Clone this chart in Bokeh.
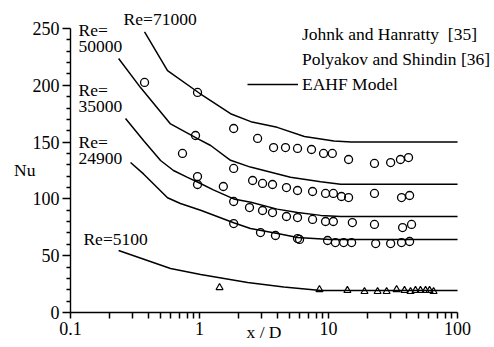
from bokeh.plotting import figure
from bokeh.models import (FixedTicker, CustomJSTickFormatter,
                          Legend, LegendItem, ColumnDataSource)
from bokeh.core.properties import value
from bokeh.embed import file_html
from bokeh.resources import INLINE

SERIF = "Liberation Serif"

# EAHF model curves, one per Reynolds number
re71000_x = [0.375, 0.565, 1.0, 1.74, 2.5, 4.0, 6.5, 11.0, 15.0, 100]
re71000_nu = [247, 213, 193, 175, 168, 163, 155, 151, 150, 150]

re50000_x = [0.236, 0.349, 0.596, 0.965, 1.22, 1.74, 2.48, 5.07, 8.7, 12.4, 100]
re50000_nu = [223.6, 198, 166, 153, 147, 134, 128, 119, 115, 113, 113]

re35000_x = [0.267, 0.368, 0.499, 0.628, 0.807, 1.0, 1.28, 1.84, 2.5, 4.0, 5.75, 8.7, 12.4, 100]
re35000_nu = [170.8, 151.4, 133.8, 125, 119, 114, 108, 100, 97, 91, 88, 85.5, 84.5, 84.5]

re24900_x = [0.292, 0.368, 0.565, 0.711, 1.02, 1.84, 2.48, 4.03, 5.75, 10.3, 100]
re24900_nu = [132, 122, 101, 96, 90, 79, 74, 69.5, 66, 64.3, 64.3]

re5100_x = [0.236, 0.596, 1.02, 2.36, 4.5, 8.7, 100]
re5100_nu = [54.6, 38.7, 33.5, 26.4, 22.5, 19.4, 19.4]

# Johnk and Hanratty [35] measurements
jh71000_x = [0.965, 1.84, 2.82, 3.75, 4.64, 5.75, 7.38, 9.15, 10.7, 14.3, 22.7, 30.3, 36.1, 41.7]
jh71000_nu = [193.7, 162, 153.2, 145.2, 145.2, 144.4, 143.5, 140, 140, 134.7, 131.2, 132, 134.7, 136.4]

jh50000_x = [0.375, 0.738, 0.931, 1.84, 2.58, 3.08, 3.68, 4.72, 5.75, 7.52, 9.48, 10.9, 12.6, 14.3, 22.7, 36.8, 42.5]
jh50000_nu = [202.5, 140, 155.8, 126.8, 116.2, 113.6, 112.7, 110, 107.4, 106.5, 104.8, 104.8, 102.1, 101.2, 104.8, 101.2, 103]

jh35000_x = [0.965, 0.965, 1.53, 1.84, 2.44, 3.08, 3.68, 4.72, 5.75, 7.52, 9.48, 10.9, 15.3, 22.7, 37.5, 44.0]
jh35000_nu = [119.7, 112.7, 110.9, 97.7, 92.4, 89.8, 88, 84.5, 83.6, 81.9, 80.1, 80.1, 79.2, 77.5, 74.8, 77.5]

jh24900_x = [1.84, 2.97, 3.88, 5.75, 5.96, 9.83, 11.3, 13.1, 15.1, 23.2, 30.3, 36.8, 42.5]
jh24900_nu = [78.3, 70.4, 67.8, 65.1, 64.3, 63.4, 61.6, 61.6, 61.6, 60.7, 60.7, 61.6, 62.5]

# Polyakov and Shindin [36] measurements (Re = 5100)
ps_x = [1.43, 8.5, 14.0, 19.0, 24.0, 28.2, 33.7, 38.8, 43.2, 47.2, 51.6, 56.5, 60.7, 65.2]
ps_nu = [22, 20.2, 19.4, 18.5, 18.5, 18.5, 20.2, 19.4, 18.5, 19.4, 19.4, 19.4, 19.4, 18.5]

# curve labels
re_label_x = [0.258, 0.1153, 0.1153, 0.1153, 0.1153, 0.1153, 0.1153, 0.126]
re_label_nu = [258.4, 249, 234, 196, 181, 150.5, 135.6, 65]
re_label_text = ["Re=71000", "Re=", "50000", "Re=", "35000", "Re=", "24900", "Re=5100"]

# x ticks: every 1-9 step of each decade; only the decades carry a label
x_ticks = [0.1, 0.2, 0.3, 0.4, 0.5, 0.6, 0.7, 0.8, 0.9,
           1, 2, 3, 4, 5, 6, 7, 8, 9,
           10, 20, 30, 40, 50, 60, 70, 80, 90, 100]
y_ticks = [0, 50, 100, 150, 200, 250]
y_minor = [v for v in range(10, 250, 10) if v % 50]

# the frame runs past 100 and 250 so the key and top label have room;
# the axis lines themselves stop at the data limits via `bounds`
p = figure(width=494, height=347, x_axis_type="log", x_range=(0.1, 186.6), y_range=(0, 272.9),
           output_backend="svg", toolbar_location=None,
           min_border_left=70, min_border_right=2, min_border_top=2, min_border_bottom=35)
p.outline_line_color = None
p.xgrid.visible = False
p.ygrid.visible = False
p.background_fill_color = "white"
p.border_fill_color = "white"

curves = [(re71000_x, re71000_nu), (re50000_x, re50000_nu), (re35000_x, re35000_nu),
          (re24900_x, re24900_nu), (re5100_x, re5100_nu)]
line_renderers = [p.line(cx, cy, line_color="black", line_width=1.5) for cx, cy in curves]

for cx, cy in [(jh71000_x, jh71000_nu), (jh50000_x, jh50000_nu),
               (jh35000_x, jh35000_nu), (jh24900_x, jh24900_nu)]:
    p.scatter(cx, cy, marker="circle", size=8, fill_color=None,
              line_color="black", line_width=1.3)

p.scatter(ps_x, ps_nu, marker="triangle", size=7, fill_color=None,
          line_color="black", line_width=1.2)

p.text(re_label_x, re_label_nu, text=re_label_text, text_font=value(SERIF),
       text_font_size="17.5px", text_color="black", text_align="left",
       text_baseline="middle")

# small key markers for the legend
empty = ColumnDataSource(data=dict(x=[], y=[]))
key_circle = p.scatter("x", "y", source=empty, marker="circle", size=6, fill_color=None,
                       line_color="black", line_width=1.3)
key_tri = p.scatter("x", "y", source=empty, marker="triangle", size=6, fill_color=None,
                    line_color="black", line_width=1.2)

legend = Legend(items=[
    LegendItem(label="Johnk and Hanratty  [35]", renderers=[key_circle]),
    LegendItem(label="Polyakov and Shindin [36]", renderers=[key_tri]),
    LegendItem(label="EAHF Model", renderers=[line_renderers[0]]),
], location=(177, 217))
legend.padding = 0
legend.margin = 0
legend.spacing = 3
legend.glyph_width = 51
legend.glyph_height = 22
legend.label_height = 22
legend.label_standoff = 4
legend.border_line_color = None
legend.background_fill_alpha = 0
legend.label_text_font = SERIF
legend.label_text_font_size = "17.5px"
legend.label_text_color = "black"
p.add_layout(legend, "center")

# axes
xa = p.xaxis[0]
xa.ticker = FixedTicker(ticks=x_ticks)
xa.formatter = CustomJSTickFormatter(code="""
    const e = Math.log10(tick);
    return Math.abs(e - Math.round(e)) < 1e-9 ? String(tick) : "";
""")
xa.bounds = (0.1, 100)
ya = p.yaxis[0]
ya.ticker = FixedTicker(ticks=y_ticks, minor_ticks=y_minor)
ya.bounds = (0, 250)
for ax in (xa, ya):
    ax.axis_line_color = "black"
    ax.axis_line_width = 1.4
    ax.major_tick_line_color = "black"
    ax.minor_tick_line_color = "black"
    ax.major_tick_line_width = 1.5
    ax.minor_tick_line_width = 1.5
    ax.major_tick_in = 0
    ax.minor_tick_in = 0
    ax.minor_tick_out = 4
    ax.major_label_text_font = SERIF
    ax.major_label_text_font_size = "18px"
    ax.major_label_text_color = "black"
    ax.axis_label_text_font = SERIF
    ax.axis_label_text_font_size = "17.5px"
    ax.axis_label_text_font_style = "normal"
    ax.axis_label_text_color = "black"
xa.major_tick_out = 6
xa.major_label_standoff = 3
# two trailing em spaces pull the centred title back over the 0.1-100 span
xa.axis_label = "x / D\u2003\u2003"
xa.axis_label_standoff = -16
ya.major_tick_out = 8
ya.major_label_standoff = 3
ya.axis_label = "\nNu"
ya.axis_label_orientation = "horizontal"
ya.axis_label_standoff = -6

open("out.html", "w").write(file_html(p, INLINE))
